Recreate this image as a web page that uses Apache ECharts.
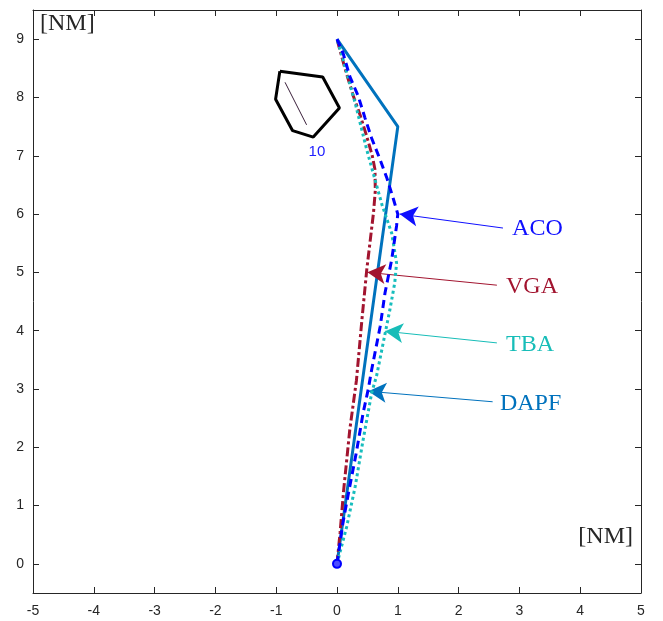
<!DOCTYPE html>
<html lang="en">
<head>
    <meta charset="UTF-8">
    <title>paths</title>
    <script src="https://cdn.jsdelivr.net/npm/echarts@6/dist/echarts.min.js"></script>
    <style>
        body { margin: 0; background: #fff; }
        #main { width: 663px; height: 621px; }
    </style>
</head>
<body>
<div id="main"></div>
<script>
    // 路径数据 [x, y] (NM)
    var dapf = [[0, 0], [1, 7.5], [0, 9]];
    var aco = [[0, 0], [0.10, 0.72], [0.19, 1.22], [0.32, 1.92], [0.43, 2.59], [0.515, 3.0], [0.57, 3.33],
        [0.71, 4.07], [0.79, 4.65], [0.90, 5.22], [0.98, 5.8], [1.0, 6.0], [0.93, 6.25], [0.82, 6.62],
        [0.71, 6.93], [0.57, 7.30], [0.46, 7.65], [0.35, 8.02], [0.21, 8.36], [0.10, 8.76], [0, 9]];
    var vga = [[0, 0], [0.05, 0.53], [0.11, 1.27], [0.21, 2.30], [0.32, 3.15], [0.41, 4.19], [0.49, 5.05],
        [0.60, 6.02], [0.63, 6.4], [0.625, 6.76], [0.58, 7.0], [0.49, 7.33], [0.38, 7.7], [0.27, 8.02],
        [0.13, 8.5], [0, 9]];
    var tba = [[0, 0], [0.16, 0.64], [0.30, 1.33], [0.43, 2.13], [0.57, 2.93], [0.65, 3.22], [0.76, 3.79],
        [0.87, 4.36], [0.95, 4.82], [0.98, 5.16], [0.90, 5.67], [0.74, 6.16], [0.625, 6.59], [0.49, 7.10],
        [0.30, 7.90], [0.10, 8.65], [0, 9]];
    var startPoint = [[0, 0]];

    // 障碍物
    var obstacle = [[-0.94, 8.45], [-0.235, 8.35], [0.04, 7.82], [-0.39, 7.32], [-0.73, 7.43], [-1.01, 7.97], [-0.94, 8.45]];
    var heading = [[-0.855, 8.26], [-0.50, 7.53]];
    var obstacleLabel = [[-0.33, 7.06, '10']];

    // 箭头 [尾, 头] 和文字
    var names = ['ACO', 'VGA', 'TBA', 'DAPF'];
    var colors = ['#0f0fff', '#a2142f', '#17bdb8', '#0072bd'];
    var arrowTails = [[2.73, 5.76], [2.63, 4.78], [2.63, 3.79], [2.56, 2.78]];
    var arrowTips = [[1.03, 6.0], [0.50, 5.0], [0.79, 3.99], [0.515, 2.96]];
    var textPos = [[2.88, 5.75], [2.78, 4.75], [2.78, 3.76], [2.68, 2.75]];

    var myChart = echarts.init(document.getElementById('main'));

    var tickLabel = {
        color: '#262626', fontSize: 14, fontFamily: 'Liberation Sans',
        formatter: function (v) { return Number.isInteger(v) ? v : ''; }
    };
    var axisLine = { show: true, onZero: false, lineStyle: { color: '#262626', width: 1 } };
    var axisTick = { show: true, inside: true, length: 6, lineStyle: { color: '#262626' } };
    var nmStyle = { color: '#262626', fontSize: 24, fontFamily: 'Liberation Serif' };

    function arrowLine(i) {
        return {
            silent: true,
            symbol: ['none', 'arrow'],
            symbolSize: [15, 18],
            label: { show: false },
            lineStyle: { color: colors[i], width: 1, type: 'solid' },
            data: [[{ coord: arrowTails[i] }, { coord: arrowTips[i] }]]
        };
    }

    function pathSeries(name, data, color, type, idx, z) {
        return {
            name: name,
            type: 'line',
            data: data,
            showSymbol: false,
            z: z,
            lineStyle: { color: color, width: 3, type: type },
            markLine: arrowLine(idx)
        };
    }

    var textSeries = [];
    for (var i = 0; i < names.length; i++) {
        textSeries.push({
            type: 'scatter',
            symbolSize: 0,
            itemStyle: { opacity: 1 },
            data: [textPos[i]],
            label: {
                show: true, position: 'right', distance: 0, formatter: names[i],
                color: colors[i], fontSize: 24, fontFamily: 'Liberation Serif'
            }
        });
    }

    myChart.setOption({
        animation: false,
        grid: { left: 33, right: 22, top: 10, bottom: 28 },
        xAxis: [{
            type: 'value', min: -5, max: 5, interval: 1, position: 'bottom',
            name: '[NM]', nameLocation: 'end', nameGap: -8,
            nameTextStyle: Object.assign({ align: 'right', verticalAlign: 'bottom', padding: [0, 0, 44, 0] }, nmStyle),
            axisLine: axisLine, axisTick: axisTick, splitLine: { show: false },
            axisLabel: Object.assign({ margin: 11 }, tickLabel)
        }, {
            type: 'value', min: -5, max: 5, interval: 1, position: 'top',
            axisLine: axisLine, axisTick: axisTick, splitLine: { show: false }, axisLabel: { show: false }
        }],
        yAxis: [{
            type: 'value', min: -0.5, max: 9.5, splitNumber: 10, position: 'left',
            name: '[NM]', nameLocation: 'end', nameGap: -2,
            nameTextStyle: Object.assign({ align: 'left', verticalAlign: 'top', padding: [0, 0, 0, 7] }, nmStyle),
            axisLine: axisLine, axisTick: axisTick, splitLine: { show: false },
            axisLabel: Object.assign({ margin: 9, showMinLabel: false, showMaxLabel: false }, tickLabel)
        }, {
            type: 'value', min: -0.5, max: 9.5, splitNumber: 10, position: 'right',
            axisLine: axisLine, axisTick: axisTick, splitLine: { show: false }, axisLabel: { show: false }
        }],
        series: [
            pathSeries('DAPF', dapf, '#0072bd', 'solid', 3, 3),
            pathSeries('VGA', vga, '#a2142f', [9, 3, 3, 3], 1, 4),
            pathSeries('TBA', tba, '#17bdbd', [3, 3], 2, 5),
            pathSeries('ACO', aco, '#0000ff', [8, 5], 0, 6),
            {
                type: 'line', data: obstacle, showSymbol: false,
                lineStyle: { color: '#000', width: 3 }
            },
            {
                type: 'line', data: heading, showSymbol: false,
                lineStyle: { color: '#3a1f3a', width: 1 }
            },
            {
                type: 'scatter', data: obstacleLabel, symbolSize: 0, itemStyle: { opacity: 1 },
                label: {
                    show: true, position: 'inside', formatter: function (p) { return p.data[2]; },
                    color: '#2020ff', fontSize: 15, fontFamily: 'Liberation Sans'
                }
            },
            {
                type: 'scatter', data: startPoint, symbolSize: 8, z: 10,
                itemStyle: { color: '#4d4dff', borderColor: '#0000ff', borderWidth: 2, opacity: 1 }
            }
        ].concat(textSeries)
    });
</script>
</body>
</html>
